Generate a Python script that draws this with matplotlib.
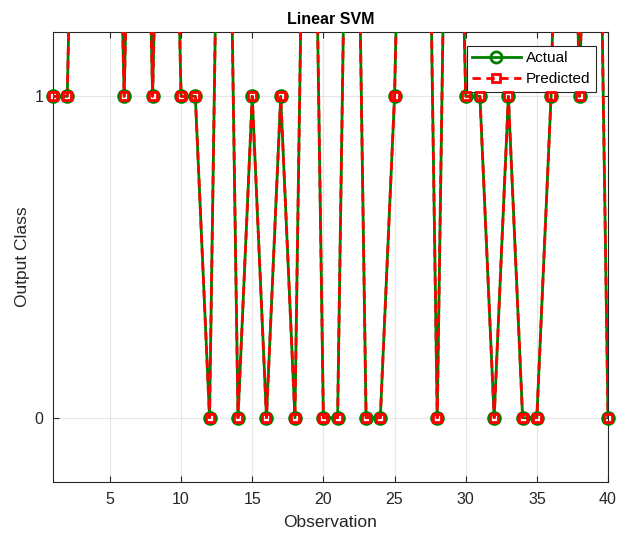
import matplotlib
matplotlib.use("Agg")
import matplotlib.pyplot as plt
import numpy as np

observations = list(range(1, 41))
actual = [1, 1, 3, 3, 3, 1, 3, 1, 3, 1,
          1, 0, 3, 0, 1, 0, 1, 0, 3, 0,
          0, 3, 0, 0, 1, 3, 3, 0, 3, 1,
          1, 0, 1, 0, 0, 1, 3, 1, 3, 0]
predicted = list(actual)
xticks = [5, 10, 15, 20, 25, 30, 35, 40]
yticks = [0, 1]

plt.rcParams['font.family'] = ['Liberation Sans', 'DejaVu Sans']

fig = plt.figure(figsize=(6.29, 5.40), dpi=100)
ax = fig.add_axes([53/629, 58/540, 555/629, 450/540])

ylo, yhi = -0.2, 1.2
green = '#008000'
red = '#ff0000'

ax.plot(observations, actual, '-', color=green, lw=2, zorder=3)
ax.plot(observations, predicted, '--', color=red, lw=2, zorder=4, dashes=(3, 2))

x = np.array(observations)
a = np.array(actual, dtype=float)
p = np.array(predicted, dtype=float)
ma = (a >= ylo) & (a <= yhi)
mp = (p >= ylo) & (p <= yhi)
ax.plot(x[ma], a[ma], ls='none', marker='o', ms=8.5, mew=2, mfc='none',
        mec=green, zorder=5, clip_on=False)
ax.plot(x[mp], p[mp], ls='none', marker='s', ms=6.3, mew=2, mfc='none',
        mec=red, zorder=6, clip_on=False)

# legend handles
ax.plot([], [], '-', color=green, lw=2, marker='o', ms=8, mew=2, mfc='none',
        label='Actual')
ax.plot([], [], '--', color=red, lw=2, marker='s', ms=6, mew=2, mfc='none',
        label='Predicted', dashes=(3, 2))

ax.set_xlim(1, 40)
ax.set_ylim(ylo, yhi)
ax.set_xticks(xticks)
ax.set_yticks(yticks)
ax.grid(True, color='#e6e6e6', lw=0.8)
ax.set_axisbelow(True)
for s in ax.spines.values():
    s.set_color('#262626')
    s.set_linewidth(0.8)
ax.tick_params(direction='in', top=True, right=True, labelsize=11.5,
               colors='#262626', length=4, pad=7)
ax.set_title('Linear SVM', fontsize=11.5, fontweight='bold', pad=6)
ax.set_xlabel('Observation', fontsize=12.5, color='#262626', labelpad=6)
ax.set_ylabel('Output Class', fontsize=12.5, color='#262626', labelpad=3)

leg = ax.legend(loc='upper right', bbox_to_anchor=(0.9785, 0.969), fontsize=11,
                fancybox=False, edgecolor='#262626', framealpha=1,
                handlelength=3.2, borderpad=0.35, labelspacing=0.45,
                handletextpad=0.35, borderaxespad=0)
leg.get_frame().set_linewidth(0.8)

fig.savefig('out.png', dpi=100)
